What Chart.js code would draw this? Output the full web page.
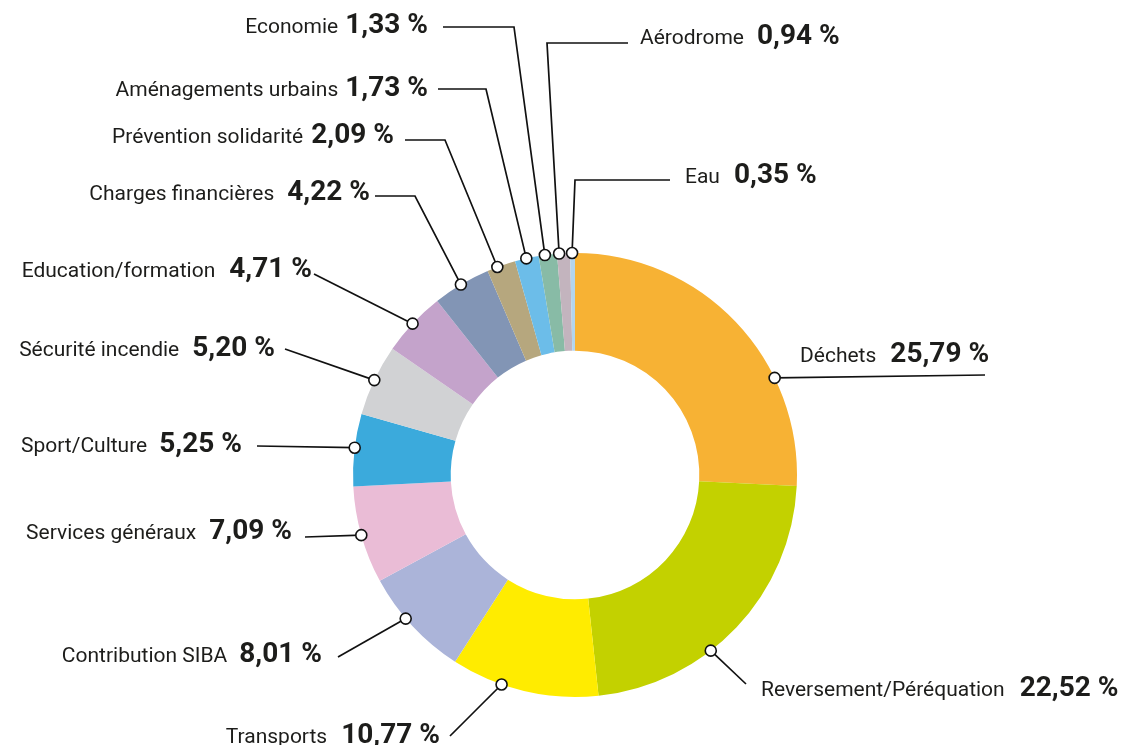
<!DOCTYPE html>
<html>
<head>
<meta charset="utf-8">
<script src="https://cdn.jsdelivr.net/npm/chart.js@4/dist/chart.umd.min.js"></script>
<style>
  html, body { margin: 0; padding: 0; background: #ffffff; }
  #wrap { width: 1126px; height: 745px; position: relative; }
</style>
</head>
<body>
<div id="wrap"><canvas id="c" width="1126" height="745"></canvas></div>
<script>
// ---- Data ----
const categories = [
  "Déchets", "Reversement/Péréquation", "Transports", "Contribution SIBA",
  "Services généraux", "Sport/Culture", "Sécurité incendie", "Education/formation",
  "Charges financières", "Prévention solidarité", "Aménagements urbains",
  "Economie", "Aérodrome", "Eau"
];
const values = [25.79, 22.52, 10.77, 8.01, 7.09, 5.25, 5.20, 4.71, 4.22, 2.09, 1.73, 1.33, 0.94, 0.35];
const valueLabels = ["25,79 %", "22,52 %", "10,77 %", "8,01 %", "7,09 %", "5,25 %", "5,20 %", "4,71 %", "4,22 %", "2,09 %", "1,73 %", "1,33 %", "0,94 %", "0,35 %"];
const colors = [
  "#F7B234", "#C3D100", "#FFEC00", "#ABB4D9", "#EABCD6", "#3BAADC", "#D1D2D4",
  "#C4A3CB", "#8295B5", "#B6A77E", "#6CBDE9", "#88BBA6", "#C3B4BE", "#B3D5EE"
];

// ---- Label layout (annotation placement only) ----
// t: fraction along the slice where the leader dot sits
// pts: leader line points after the dot; tx/ty: text anchor (baseline); align: side of text
const labelLayout = [
  { t: 0.69, pts: [[985, 375]], tx: 800, ty: 362, align: "left", gap: 14 },
  { t: 0.61, pts: [[746, 684]], tx: 761, ty: 696, align: "left", gap: 15 },
  { t: 0.655, pts: [[450, 736]], tx: 440, ty: 743, align: "right", gap: 14 },
  { t: 0.59, pts: [[338, 657]], tx: 322, ty: 662, align: "right", gap: 12 },
  { t: 0.5, pts: [[305, 537]], tx: 292, ty: 539, align: "right", gap: 13 },
  { t: 0.53, pts: [[257, 446]], tx: 242, ty: 452, align: "right", gap: 12 },
  { t: 0.5, pts: [[285, 349]], tx: 275, ty: 356, align: "right", gap: 13 },
  { t: 0.49, pts: [[314, 274]], tx: 312, ty: 277, align: "right", gap: 14 },
  { t: 0.49, pts: [[415, 196], [375, 196]], tx: 370, ty: 200, align: "right", gap: 13 },
  { t: 0.36, pts: [[445, 140], [405, 140]], tx: 394, ty: 143, align: "right", gap: 8 },
  { t: 0.48, pts: [[486, 89], [438, 89]], tx: 428, ty: 96, align: "right", gap: 7 },
  { t: 0.34, pts: [[514, 27], [443, 27]], tx: 428, ty: 33, align: "right", gap: 7 },
  { t: 0.16, pts: [[547, 43], [628, 43]], tx: 640, ty: 44, align: "left", gap: 13 },
  { t: 0.4, pts: [[575, 180], [670, 180]], tx: 685, ty: 183, align: "left", gap: 14 }
];

const NAME_FONT = "400 21px Roboto";
const VALUE_FONT = "700 28px Roboto";
const TEXT_COLOR = "#1d1d1b";

const leaderPlugin = {
  id: "leaders",
  afterDatasetsDraw(chart) {
    const ctx = chart.ctx;
    const meta = chart.getDatasetMeta(0);
    ctx.save();
    meta.data.forEach((arc, i) => {
      const L = labelLayout[i];
      const p = arc.getProps(["x", "y", "startAngle", "endAngle", "outerRadius"], true);
      const a = p.startAngle + L.t * (p.endAngle - p.startAngle);
      const dx = p.x + Math.cos(a) * p.outerRadius;
      const dy = p.y + Math.sin(a) * p.outerRadius;
      // leader line
      ctx.beginPath();
      ctx.moveTo(dx, dy);
      L.pts.forEach(q => ctx.lineTo(q[0], q[1]));
      ctx.strokeStyle = "#111111";
      ctx.lineWidth = 1.7;
      ctx.lineJoin = "miter";
      ctx.stroke();
      // dot
      ctx.beginPath();
      ctx.arc(dx, dy, 5.5, 0, Math.PI * 2);
      ctx.fillStyle = "#ffffff";
      ctx.fill();
      ctx.lineWidth = 1.6;
      ctx.strokeStyle = "#111111";
      ctx.stroke();
      // text
      ctx.fillStyle = TEXT_COLOR;
      ctx.textBaseline = "alphabetic";
      ctx.font = NAME_FONT;
      const wName = ctx.measureText(categories[i]).width;
      ctx.font = VALUE_FONT;
      const wVal = ctx.measureText(valueLabels[i]).width;
      let x0 = L.align === "left" ? L.tx : L.tx - (wName + L.gap + wVal);
      ctx.textAlign = "left";
      ctx.font = NAME_FONT;
      ctx.fillText(categories[i], x0, L.ty);
      ctx.font = VALUE_FONT;
      ctx.fillText(valueLabels[i], x0 + wName + L.gap, L.ty);
    });
    ctx.restore();
  }
};

new Chart(document.getElementById("c"), {
  type: "doughnut",
  data: {
    labels: categories,
    datasets: [{
      data: values,
      backgroundColor: colors,
      borderWidth: 0
    }]
  },
  options: {
    responsive: false,
    devicePixelRatio: 1,
    animation: false,
    cutout: "56%",
    layout: { padding: { left: 353, right: 329, top: 253, bottom: 48 } },
    plugins: {
      legend: { display: false },
      tooltip: { enabled: false }
    }
  },
  plugins: [leaderPlugin]
});
</script>
</body>
</html>
